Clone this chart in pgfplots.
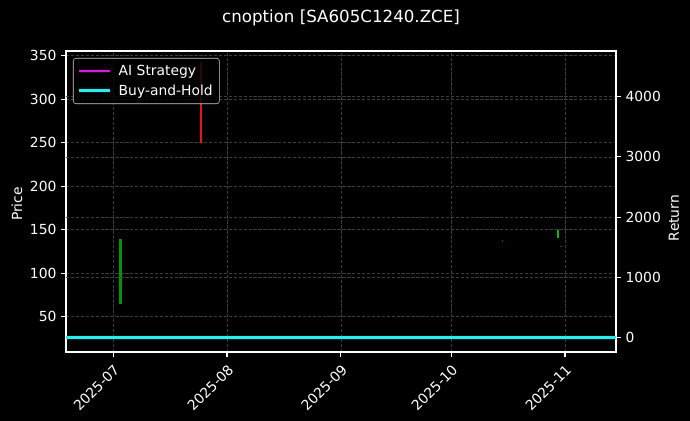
\documentclass[border=0pt]{standalone}
\usepackage{fontspec}
\setmainfont{DejaVu Sans}
\usepackage{pgfplots}
\pgfplotsset{compat=1.18}
\definecolor{gridgray}{RGB}{60,60,60}
\definecolor{upgreen}{RGB}{0,150,0}
\definecolor{brightgreen}{RGB}{0,185,0}
\definecolor{downred}{RGB}{235,20,20}
\definecolor{dimred}{RGB}{150,20,20}
\definecolor{aicolor}{RGB}{255,0,255}
\definecolor{bhcolor}{RGB}{0,255,255}

\begin{document}
\begin{tikzpicture}[x=1pt,y=1pt]
\fill[black] (-49.5,-51.75) rectangle (468,264);
\pgfplotsset{
  base/.style={
    scale only axis, width=412.5pt, height=225.75pt,
    at={(0,0)}, anchor=south west,
    xmin=-12.85, xmax=136.9,
    axis line style={white, line width=0.83pt},
    tick style={white, line width=0.83pt},
    major tick length=3.65pt, tick align=outside,
    ticklabel style={text=white, font=\fontsize{10.4}{12}\selectfont},
    /pgf/number format/assume math mode=true,
    /pgf/number format/1000 sep={},
    major grid style={gridgray, line width=0.5pt, dash pattern=on 2.5pt off 1.2pt},
  }
}
% price axis with candles
\begin{axis}[base,
  ymin=9.3, ymax=355.4,
  ytick={50,100,...,350},
  xtick={0,31,62,92,123},
  xticklabels={2025-07,2025-08,2025-09,2025-10,2025-11},
  xticklabel style={rotate=45, anchor=north east},
  xtick pos=lower, ytick pos=left,
  grid=major,
]
\addplot[upgreen, line width=1.9pt] coordinates {(2,65) (2,139)};
\addplot[downred, line width=1.3pt] coordinates {(24,250) (24,343)};
\addplot[dimred, line width=1.2pt] coordinates {(106,136) (106,138)};
\addplot[brightgreen, line width=1.5pt] coordinates {(121,140) (121,150)};
\addplot[dimred, line width=1.2pt] coordinates {(122,129.5) (122,131)};
\end{axis}
% return axis
\begin{axis}[base,
  ymin=-237, ymax=4758,
  ytick={0,1000,...,4000},
  axis y line*=right, axis x line=none,
  ymajorgrids,
  legend cell align=left,
  legend image code/.code={\draw[#1] (0pt,0pt) -- (23.5pt,0pt); \path (27pt,0pt);},
  legend style={at={(rel axis cs:0,1)}, anchor=north west,
    xshift=5.25pt, yshift=-5.25pt,
    fill=black, fill opacity=0.8, text opacity=1,
    draw=white!80!black, rounded corners=2pt,
    text=white, font=\fontsize{10.4}{12}\selectfont,
    row sep=1.5pt, inner xsep=3pt, inner ysep=3pt},
]
\addplot[aicolor, line width=2.1pt] coordinates {(-12.85,0) (136.9,0)};
\addplot[bhcolor, line width=2.1pt] coordinates {(-12.85,0) (136.9,0)};
\legend{AI Strategy, Buy-and-Hold}
\end{axis}
\node[text=white, font=\fontsize{12.5}{15}\selectfont] at (206.25,250.5) {cnoption [SA605C1240.ZCE]};
\node[text=white, rotate=90, font=\fontsize{10.4}{12}\selectfont] at (-36.75,111) {Price};
\node[text=white, rotate=90, font=\fontsize{10.4}{12}\selectfont] at (456,100.5) {Return};
\pgfresetboundingbox
\path (-49.5,-51.75) rectangle (468,264);
\end{tikzpicture}
\end{document}
